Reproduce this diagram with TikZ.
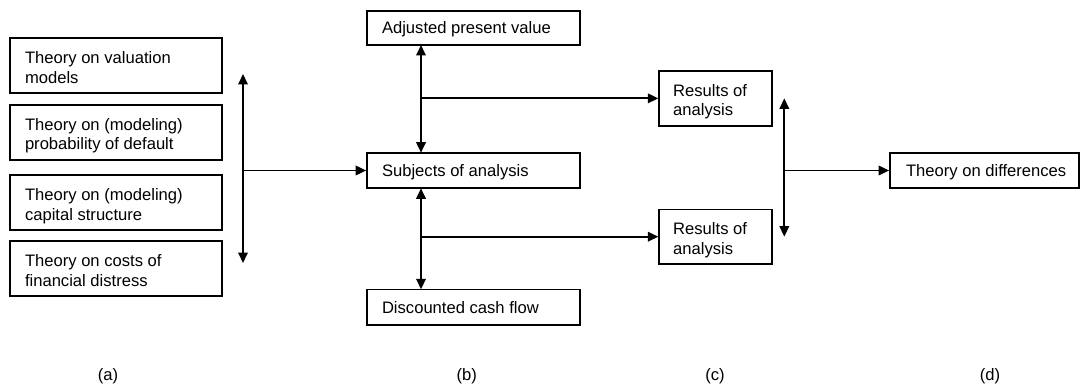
\documentclass[tikz,border=0pt]{standalone}
\usepackage{fontspec}
\setmainfont{Liberation Sans}
\usetikzlibrary{arrows.meta}
\newcommand\bxfont{\fontsize{16.6}{19.5}\selectfont}
\newcommand\oneline[2]{\hbox to #1pt{#2\hss}}
\newcommand\twolines[3]{\hbox to #1pt{\vtop{\hbox{#2}\hbox{#3}}\hss}}
\begin{document}
\begin{tikzpicture}[x=1pt,y=-1pt,
  bx/.style={draw, line width=1.7pt, inner sep=0pt, font=\bxfont, text height=16pt},
  one/.style={text depth=4pt},
  two/.style={text depth=20pt},
  conn/.style={line width=1.8pt},
  tip/.style={-{Triangle[length=10.5pt,width=9.5pt]}},
  bitip/.style={{Triangle[length=10.5pt,width=9.5pt]}-{Triangle[length=10.5pt,width=9.5pt]}},
  lab/.style={font=\bxfont, anchor=base, inner sep=0pt}]
\useasboundingbox (0,0) rectangle (1081,385);
% (a) column
\node[bx,two,minimum width=212pt,minimum height=55pt] (t1) at (116,65.8) {\twolines{182}{Theory on valuation}{models}};
\node[bx,two,minimum width=212pt,minimum height=55pt] (t2) at (116,132.5) {\twolines{182}{Theory on (modeling)}{probability of default}};
\node[bx,two,minimum width=212pt,minimum height=55pt] (t3) at (116,202.5) {\twolines{182}{Theory on (modeling)}{capital structure}};
\node[bx,two,minimum width=212pt,minimum height=55pt] (t4) at (116,268.5) {\twolines{182}{Theory on costs of}{financial distress}};
% (b) column
\node[bx,one,minimum width=213pt,minimum height=34.3pt] (apv) at (473.5,27.85) {\oneline{183}{Adjusted present value}};
\node[bx,one,minimum width=213pt,minimum height=35.6pt] (subj) at (473.5,170.5) {\oneline{183}{Subjects of analysis}};
\node[bx,one,minimum width=213pt,minimum height=35.7pt] (dcf) at (473.5,307.2) {\oneline{183}{Discounted cash flow}};
% (c) column
\node[bx,two,minimum width=113pt,minimum height=55.3pt] (r1) at (715.7,98.35) {\twolines{85}{Results of}{analysis}};
\node[bx,two,minimum width=113pt,minimum height=54.7pt] (r2) at (715.7,236.7) {\twolines{85}{Results of}{analysis}};
% (d) column
\node[bx,one,minimum width=189pt,minimum height=35.6pt] (diff) at (984.5,170.5) {\oneline{157}{Theory on differences}};
% connectors
\coordinate (lt) at (243,74);
\coordinate (lb) at (243,263);
\coordinate (lm) at (243,170.5);
\draw[conn,bitip] (lt) -- (lb);
\draw[conn,tip] (lm) -- (subj.west);
\coordinate (at) at (421,45);
\coordinate (st) at (421,152.7);
\coordinate (sb) at (421,188.3);
\coordinate (db) at (421,289.3);
\draw[conn,bitip] (at) -- (st);
\draw[conn,bitip] (sb) -- (db);
\coordinate (b1) at (421,98.35);
\coordinate (b2) at (421,236.7);
\draw[conn,tip] (b1) -- (r1.west);
\draw[conn,tip] (b2) -- (r2.west);
\coordinate (rt) at (784.3,98.35);
\coordinate (rb) at (784.3,236.7);
\coordinate (rm) at (784.3,170.5);
\draw[conn,bitip] (rt) -- (rb);
\draw[conn,tip] (rm) -- (diff.west);
% column labels
\node[lab] (la) at (108,380) {(a)};
\node[lab] (lbb) at (466.7,380) {(b)};
\node[lab] (lc) at (715,380) {(c)};
\node[lab] (ld) at (990,380) {(d)};
\end{tikzpicture}
\end{document}
